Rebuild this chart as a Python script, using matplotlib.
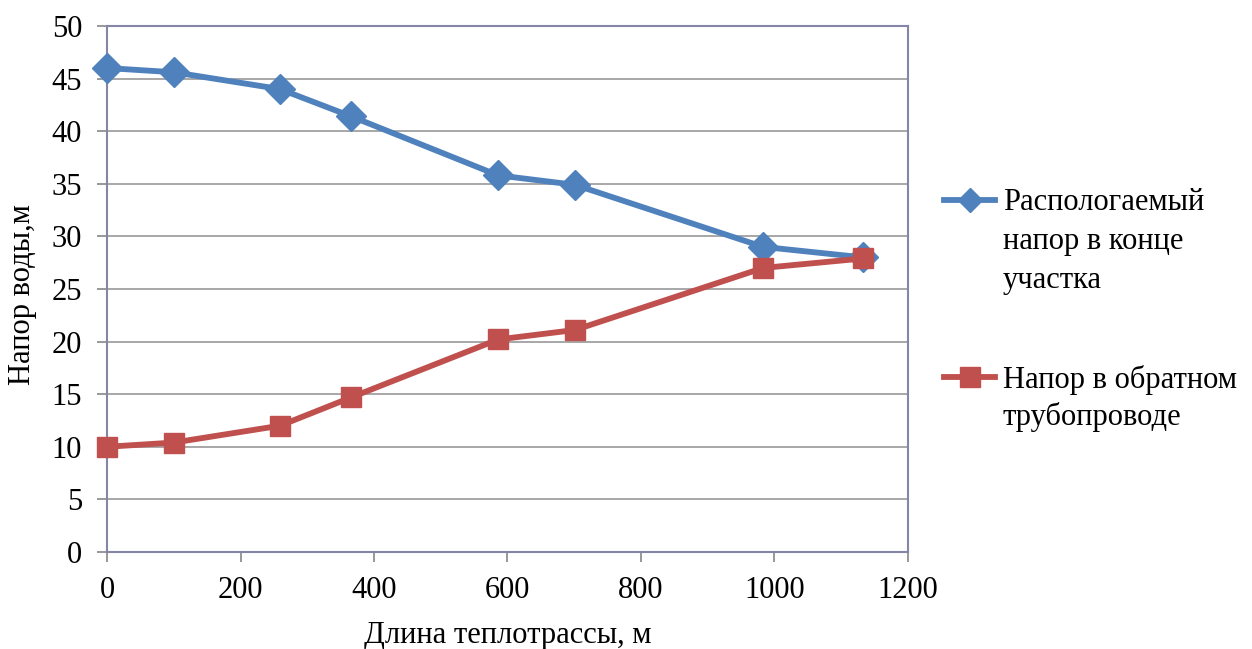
import matplotlib
matplotlib.use("Agg")
import matplotlib.pyplot as plt
from matplotlib.lines import Line2D

plt.rcParams["font.family"] = ["Liberation Serif", "DejaVu Serif"]

# ---------------------------------------------------------------------------
# Data
# ---------------------------------------------------------------------------
length_m      = [0, 100, 259, 366, 586, 701, 983, 1133]
head_avail    = [46.0, 45.6, 44.0, 41.4, 35.8, 34.9, 29.0, 28.0]
head_return   = [10.0, 10.4, 12.0, 14.7, 20.2, 21.1, 27.0, 27.9]

label_avail   = "Распологаемый\nнапор в конце\nучастка"
label_return  = "Напор в обратном\nтрубопроводе"

BLUE  = "#4f81bd"
RED   = "#c0504d"
SPINE = "#8585a8"
LW    = 4.2

fig = plt.figure(figsize=(12.52, 6.49), dpi=100)
ax = fig.add_axes([0.0855, 0.1495, 0.6397, 0.8105])

ax.plot(length_m, head_avail, color=BLUE, linewidth=LW, marker="D",
        markersize=15, zorder=3, clip_on=False)
ax.plot(length_m, head_return, color=RED, linewidth=LW, marker="s",
        markersize=15, zorder=3, clip_on=False)

ax.set_xlim(0, 1200)
ax.set_ylim(0, 50)
ax.set_xticks(range(0, 1201, 200))
ax.set_yticks(range(0, 51, 5))
ax.yaxis.grid(True, color="#a0a0a0", linewidth=1.3)
ax.set_axisbelow(True)

for s in ax.spines.values():
    s.set_color(SPINE)
    s.set_linewidth(1.5)
ax.tick_params(axis="both", labelsize=22, color="#909090", length=7,
               width=1.3, direction="out")
ax.tick_params(axis="x", pad=10)
ax.tick_params(axis="y", pad=11)

ax.set_xlabel("Длина теплотрассы, м", fontsize=22, labelpad=12)
ax.set_ylabel("Напор воды,м", fontsize=22)
ax.yaxis.set_label_coords(-0.088, 0.49)

# legend drawn by hand so the marker sits on the first text line
def legend_entry(y_px, color, marker, msize, text, spacing):
    y = 1 - y_px / 649
    fig.add_artist(Line2D([0.754, 0.795], [y, y], transform=fig.transFigure,
                          color=color, linewidth=LW))
    fig.add_artist(Line2D([0.7745], [y], transform=fig.transFigure,
                          color=color, marker=marker, markersize=msize,
                          linestyle="none"))
    fig.text(0.801, 1 - (y_px - 12) / 649, text, fontsize=22, va="top",
             ha="left", linespacing=spacing, transform=fig.transFigure)

legend_entry(200, BLUE, "D", 12, label_avail, 1.45)
legend_entry(377, RED, "s", 14, label_return, 1.3)

fig.savefig("out.png", dpi=100)
